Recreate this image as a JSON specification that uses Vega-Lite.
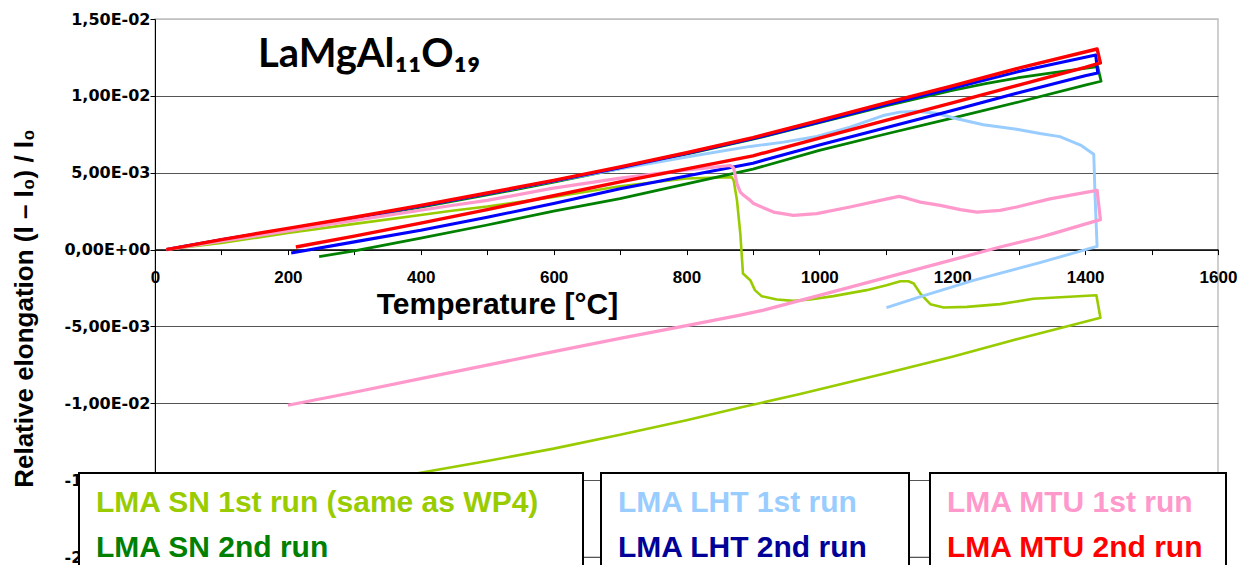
{
  "$schema": "https://vega.github.io/schema/vega-lite/v6.json",
  "width": 1063,
  "height": 538,
  "autosize": {"type": "none"},
  "padding": {"left": 155, "top": 19, "right": 27, "bottom": 8},
  "background": "white",
  "title": {"text": "LaMgAl₁₁O₁₉", "anchor": "start", "frame": "group", "orient": "top", "offset": 0, "dx": 103, "dy": 96, "baseline": "alphabetic", "font": "Lato", "fontSize": 40, "fontWeight": "bold", "color": "black"},
  "datasets": {
    "sn": [
      {"series": "LMA SN 1st run (same as WP4)", "i": 0, "T": 17, "e": 0},
      {"series": "LMA SN 1st run (same as WP4)", "i": 1, "T": 100, "e": 0.00043},
      {"series": "LMA SN 1st run (same as WP4)", "i": 2, "T": 200, "e": 0.00108},
      {"series": "LMA SN 1st run (same as WP4)", "i": 3, "T": 300, "e": 0.00167},
      {"series": "LMA SN 1st run (same as WP4)", "i": 4, "T": 400, "e": 0.00225},
      {"series": "LMA SN 1st run (same as WP4)", "i": 5, "T": 444, "e": 0.00251},
      {"series": "LMA SN 1st run (same as WP4)", "i": 6, "T": 500, "e": 0.0028},
      {"series": "LMA SN 1st run (same as WP4)", "i": 7, "T": 600, "e": 0.00342},
      {"series": "LMA SN 1st run (same as WP4)", "i": 8, "T": 700, "e": 0.00412},
      {"series": "LMA SN 1st run (same as WP4)", "i": 9, "T": 800, "e": 0.00462},
      {"series": "LMA SN 1st run (same as WP4)", "i": 10, "T": 868, "e": 0.00471},
      {"series": "LMA SN 1st run (same as WP4)", "i": 11, "T": 871, "e": 0.0045},
      {"series": "LMA SN 1st run (same as WP4)", "i": 12, "T": 876, "e": 0.0032},
      {"series": "LMA SN 1st run (same as WP4)", "i": 13, "T": 881, "e": 0.00104},
      {"series": "LMA SN 1st run (same as WP4)", "i": 14, "T": 885, "e": -0.00156},
      {"series": "LMA SN 1st run (same as WP4)", "i": 15, "T": 896, "e": -0.00199},
      {"series": "LMA SN 1st run (same as WP4)", "i": 16, "T": 903, "e": -0.00264},
      {"series": "LMA SN 1st run (same as WP4)", "i": 17, "T": 913, "e": -0.00303},
      {"series": "LMA SN 1st run (same as WP4)", "i": 18, "T": 936, "e": -0.00325},
      {"series": "LMA SN 1st run (same as WP4)", "i": 19, "T": 961, "e": -0.00334},
      {"series": "LMA SN 1st run (same as WP4)", "i": 20, "T": 986, "e": -0.00325},
      {"series": "LMA SN 1st run (same as WP4)", "i": 21, "T": 1021, "e": -0.00303},
      {"series": "LMA SN 1st run (same as WP4)", "i": 22, "T": 1071, "e": -0.00264},
      {"series": "LMA SN 1st run (same as WP4)", "i": 23, "T": 1101, "e": -0.00232},
      {"series": "LMA SN 1st run (same as WP4)", "i": 24, "T": 1122, "e": -0.00206},
      {"series": "LMA SN 1st run (same as WP4)", "i": 25, "T": 1134, "e": -0.00206},
      {"series": "LMA SN 1st run (same as WP4)", "i": 26, "T": 1142, "e": -0.00221},
      {"series": "LMA SN 1st run (same as WP4)", "i": 27, "T": 1152, "e": -0.00286},
      {"series": "LMA SN 1st run (same as WP4)", "i": 28, "T": 1167, "e": -0.00355},
      {"series": "LMA SN 1st run (same as WP4)", "i": 29, "T": 1187, "e": -0.00377},
      {"series": "LMA SN 1st run (same as WP4)", "i": 30, "T": 1222, "e": -0.00373},
      {"series": "LMA SN 1st run (same as WP4)", "i": 31, "T": 1272, "e": -0.00355},
      {"series": "LMA SN 1st run (same as WP4)", "i": 32, "T": 1322, "e": -0.0032},
      {"series": "LMA SN 1st run (same as WP4)", "i": 33, "T": 1417, "e": -0.00297},
      {"series": "LMA SN 1st run (same as WP4)", "i": 34, "T": 1423, "e": -0.00444},
      {"series": "LMA SN 1st run (same as WP4)", "i": 35, "T": 1350, "e": -0.00525},
      {"series": "LMA SN 1st run (same as WP4)", "i": 36, "T": 1300, "e": -0.0058},
      {"series": "LMA SN 1st run (same as WP4)", "i": 37, "T": 1200, "e": -0.00697},
      {"series": "LMA SN 1st run (same as WP4)", "i": 38, "T": 1100, "e": -0.00805},
      {"series": "LMA SN 1st run (same as WP4)", "i": 39, "T": 971, "e": -0.0094},
      {"series": "LMA SN 1st run (same as WP4)", "i": 40, "T": 881, "e": -0.01028},
      {"series": "LMA SN 1st run (same as WP4)", "i": 41, "T": 800, "e": -0.0111},
      {"series": "LMA SN 1st run (same as WP4)", "i": 42, "T": 700, "e": -0.01205},
      {"series": "LMA SN 1st run (same as WP4)", "i": 43, "T": 600, "e": -0.01295},
      {"series": "LMA SN 1st run (same as WP4)", "i": 44, "T": 500, "e": -0.01375},
      {"series": "LMA SN 1st run (same as WP4)", "i": 45, "T": 408, "e": -0.01446},
      {"series": "LMA SN 1st run (same as WP4)", "i": 46, "T": 300, "e": -0.0153},
      {"series": "LMA SN 1st run (same as WP4)", "i": 47, "T": 200, "e": -0.0161},
      {"series": "LMA SN 2nd run", "i": 0, "T": 17, "e": 0},
      {"series": "LMA SN 2nd run", "i": 1, "T": 100, "e": 0.00062},
      {"series": "LMA SN 2nd run", "i": 2, "T": 200, "e": 0.00133},
      {"series": "LMA SN 2nd run", "i": 3, "T": 300, "e": 0.00203},
      {"series": "LMA SN 2nd run", "i": 4, "T": 400, "e": 0.00276},
      {"series": "LMA SN 2nd run", "i": 5, "T": 500, "e": 0.00355},
      {"series": "LMA SN 2nd run", "i": 6, "T": 600, "e": 0.00438},
      {"series": "LMA SN 2nd run", "i": 7, "T": 700, "e": 0.00527},
      {"series": "LMA SN 2nd run", "i": 8, "T": 800, "e": 0.0062},
      {"series": "LMA SN 2nd run", "i": 9, "T": 900, "e": 0.00718},
      {"series": "LMA SN 2nd run", "i": 10, "T": 1000, "e": 0.00825},
      {"series": "LMA SN 2nd run", "i": 11, "T": 1100, "e": 0.00935},
      {"series": "LMA SN 2nd run", "i": 12, "T": 1200, "e": 0.01035},
      {"series": "LMA SN 2nd run", "i": 13, "T": 1250, "e": 0.0108},
      {"series": "LMA SN 2nd run", "i": 14, "T": 1300, "e": 0.01118},
      {"series": "LMA SN 2nd run", "i": 15, "T": 1350, "e": 0.0115},
      {"series": "LMA SN 2nd run", "i": 16, "T": 1419, "e": 0.0119},
      {"series": "LMA SN 2nd run", "i": 17, "T": 1424, "e": 0.01095},
      {"series": "LMA SN 2nd run", "i": 18, "T": 1400, "e": 0.0107},
      {"series": "LMA SN 2nd run", "i": 19, "T": 1300, "e": 0.0096},
      {"series": "LMA SN 2nd run", "i": 20, "T": 1200, "e": 0.00855},
      {"series": "LMA SN 2nd run", "i": 21, "T": 1100, "e": 0.00752},
      {"series": "LMA SN 2nd run", "i": 22, "T": 1000, "e": 0.00645},
      {"series": "LMA SN 2nd run", "i": 23, "T": 900, "e": 0.00523},
      {"series": "LMA SN 2nd run", "i": 24, "T": 800, "e": 0.00427},
      {"series": "LMA SN 2nd run", "i": 25, "T": 700, "e": 0.00331},
      {"series": "LMA SN 2nd run", "i": 26, "T": 600, "e": 0.0025},
      {"series": "LMA SN 2nd run", "i": 27, "T": 500, "e": 0.0016},
      {"series": "LMA SN 2nd run", "i": 28, "T": 400, "e": 0.00075},
      {"series": "LMA SN 2nd run", "i": 29, "T": 300, "e": -0.00008},
      {"series": "LMA SN 2nd run", "i": 30, "T": 247, "e": -0.00046}
    ],
    "lht": [
      {"series": "LMA LHT 1st run", "i": 0, "T": 17, "e": 0},
      {"series": "LMA LHT 1st run", "i": 1, "T": 100, "e": 0.00063},
      {"series": "LMA LHT 1st run", "i": 2, "T": 200, "e": 0.00135},
      {"series": "LMA LHT 1st run", "i": 3, "T": 300, "e": 0.00207},
      {"series": "LMA LHT 1st run", "i": 4, "T": 400, "e": 0.00284},
      {"series": "LMA LHT 1st run", "i": 5, "T": 500, "e": 0.00364},
      {"series": "LMA LHT 1st run", "i": 6, "T": 600, "e": 0.00445},
      {"series": "LMA LHT 1st run", "i": 7, "T": 700, "e": 0.00525},
      {"series": "LMA LHT 1st run", "i": 8, "T": 800, "e": 0.00602},
      {"series": "LMA LHT 1st run", "i": 9, "T": 896, "e": 0.00671},
      {"series": "LMA LHT 1st run", "i": 10, "T": 946, "e": 0.00699},
      {"series": "LMA LHT 1st run", "i": 11, "T": 996, "e": 0.00736},
      {"series": "LMA LHT 1st run", "i": 12, "T": 1046, "e": 0.00796},
      {"series": "LMA LHT 1st run", "i": 13, "T": 1096, "e": 0.00872},
      {"series": "LMA LHT 1st run", "i": 14, "T": 1121, "e": 0.00894},
      {"series": "LMA LHT 1st run", "i": 15, "T": 1146, "e": 0.009},
      {"series": "LMA LHT 1st run", "i": 16, "T": 1176, "e": 0.00887},
      {"series": "LMA LHT 1st run", "i": 17, "T": 1207, "e": 0.00851},
      {"series": "LMA LHT 1st run", "i": 18, "T": 1247, "e": 0.00812},
      {"series": "LMA LHT 1st run", "i": 19, "T": 1297, "e": 0.00783},
      {"series": "LMA LHT 1st run", "i": 20, "T": 1332, "e": 0.00755},
      {"series": "LMA LHT 1st run", "i": 21, "T": 1362, "e": 0.00735},
      {"series": "LMA LHT 1st run", "i": 22, "T": 1393, "e": 0.0068},
      {"series": "LMA LHT 1st run", "i": 23, "T": 1413, "e": 0.0062},
      {"series": "LMA LHT 1st run", "i": 24, "T": 1415, "e": 0.00342},
      {"series": "LMA LHT 1st run", "i": 25, "T": 1418, "e": 0.00021},
      {"series": "LMA LHT 1st run", "i": 26, "T": 1332, "e": -0.00085},
      {"series": "LMA LHT 1st run", "i": 27, "T": 1232, "e": -0.002},
      {"series": "LMA LHT 1st run", "i": 28, "T": 1150, "e": -0.0031},
      {"series": "LMA LHT 1st run", "i": 29, "T": 1101, "e": -0.00377},
      {"series": "LMA LHT 2nd run", "i": 0, "T": 17, "e": 0},
      {"series": "LMA LHT 2nd run", "i": 1, "T": 100, "e": 0.00064},
      {"series": "LMA LHT 2nd run", "i": 2, "T": 200, "e": 0.00134},
      {"series": "LMA LHT 2nd run", "i": 3, "T": 300, "e": 0.00206},
      {"series": "LMA LHT 2nd run", "i": 4, "T": 400, "e": 0.00283},
      {"series": "LMA LHT 2nd run", "i": 5, "T": 500, "e": 0.00363},
      {"series": "LMA LHT 2nd run", "i": 6, "T": 600, "e": 0.00446},
      {"series": "LMA LHT 2nd run", "i": 7, "T": 700, "e": 0.00533},
      {"series": "LMA LHT 2nd run", "i": 8, "T": 800, "e": 0.00625},
      {"series": "LMA LHT 2nd run", "i": 9, "T": 900, "e": 0.00722},
      {"series": "LMA LHT 2nd run", "i": 10, "T": 1000, "e": 0.0083},
      {"series": "LMA LHT 2nd run", "i": 11, "T": 1100, "e": 0.00942},
      {"series": "LMA LHT 2nd run", "i": 12, "T": 1200, "e": 0.0105},
      {"series": "LMA LHT 2nd run", "i": 13, "T": 1300, "e": 0.01158},
      {"series": "LMA LHT 2nd run", "i": 14, "T": 1416, "e": 0.01266},
      {"series": "LMA LHT 2nd run", "i": 15, "T": 1419, "e": 0.01149},
      {"series": "LMA LHT 2nd run", "i": 16, "T": 1400, "e": 0.0113},
      {"series": "LMA LHT 2nd run", "i": 17, "T": 1300, "e": 0.0102},
      {"series": "LMA LHT 2nd run", "i": 18, "T": 1200, "e": 0.00905},
      {"series": "LMA LHT 2nd run", "i": 19, "T": 1100, "e": 0.00792},
      {"series": "LMA LHT 2nd run", "i": 20, "T": 1000, "e": 0.0068},
      {"series": "LMA LHT 2nd run", "i": 21, "T": 900, "e": 0.00562},
      {"series": "LMA LHT 2nd run", "i": 22, "T": 800, "e": 0.00478},
      {"series": "LMA LHT 2nd run", "i": 23, "T": 700, "e": 0.00396},
      {"series": "LMA LHT 2nd run", "i": 24, "T": 600, "e": 0.003},
      {"series": "LMA LHT 2nd run", "i": 25, "T": 500, "e": 0.0021},
      {"series": "LMA LHT 2nd run", "i": 26, "T": 400, "e": 0.00125},
      {"series": "LMA LHT 2nd run", "i": 27, "T": 300, "e": 0.0005},
      {"series": "LMA LHT 2nd run", "i": 28, "T": 205, "e": -0.00022}
    ],
    "mtu": [
      {"series": "LMA MTU 1st run", "i": 0, "T": 17, "e": 0},
      {"series": "LMA MTU 1st run", "i": 1, "T": 100, "e": 0.00055},
      {"series": "LMA MTU 1st run", "i": 2, "T": 200, "e": 0.00122},
      {"series": "LMA MTU 1st run", "i": 3, "T": 300, "e": 0.0019},
      {"series": "LMA MTU 1st run", "i": 4, "T": 444, "e": 0.00285},
      {"series": "LMA MTU 1st run", "i": 5, "T": 500, "e": 0.0032},
      {"series": "LMA MTU 1st run", "i": 6, "T": 595, "e": 0.00396},
      {"series": "LMA MTU 1st run", "i": 7, "T": 695, "e": 0.00461},
      {"series": "LMA MTU 1st run", "i": 8, "T": 795, "e": 0.00515},
      {"series": "LMA MTU 1st run", "i": 9, "T": 866, "e": 0.00547},
      {"series": "LMA MTU 1st run", "i": 10, "T": 871, "e": 0.0053},
      {"series": "LMA MTU 1st run", "i": 11, "T": 876, "e": 0.00428},
      {"series": "LMA MTU 1st run", "i": 12, "T": 881, "e": 0.00374},
      {"series": "LMA MTU 1st run", "i": 13, "T": 886, "e": 0.00353},
      {"series": "LMA MTU 1st run", "i": 14, "T": 896, "e": 0.0032},
      {"series": "LMA MTU 1st run", "i": 15, "T": 901, "e": 0.00299},
      {"series": "LMA MTU 1st run", "i": 16, "T": 931, "e": 0.00244},
      {"series": "LMA MTU 1st run", "i": 17, "T": 961, "e": 0.00223},
      {"series": "LMA MTU 1st run", "i": 18, "T": 996, "e": 0.00234},
      {"series": "LMA MTU 1st run", "i": 19, "T": 1046, "e": 0.00277},
      {"series": "LMA MTU 1st run", "i": 20, "T": 1097, "e": 0.00325},
      {"series": "LMA MTU 1st run", "i": 21, "T": 1120, "e": 0.00346},
      {"series": "LMA MTU 1st run", "i": 22, "T": 1134, "e": 0.00331},
      {"series": "LMA MTU 1st run", "i": 23, "T": 1152, "e": 0.00309},
      {"series": "LMA MTU 1st run", "i": 24, "T": 1182, "e": 0.00288},
      {"series": "LMA MTU 1st run", "i": 25, "T": 1212, "e": 0.0026},
      {"series": "LMA MTU 1st run", "i": 26, "T": 1237, "e": 0.00244},
      {"series": "LMA MTU 1st run", "i": 27, "T": 1272, "e": 0.00255},
      {"series": "LMA MTU 1st run", "i": 28, "T": 1297, "e": 0.00277},
      {"series": "LMA MTU 1st run", "i": 29, "T": 1347, "e": 0.0033},
      {"series": "LMA MTU 1st run", "i": 30, "T": 1418, "e": 0.00385},
      {"series": "LMA MTU 1st run", "i": 31, "T": 1423, "e": 0.00195},
      {"series": "LMA MTU 1st run", "i": 32, "T": 1350, "e": 0.00102},
      {"series": "LMA MTU 1st run", "i": 33, "T": 1332, "e": 0.0008},
      {"series": "LMA MTU 1st run", "i": 34, "T": 1272, "e": 0.00017},
      {"series": "LMA MTU 1st run", "i": 35, "T": 1200, "e": -0.00067},
      {"series": "LMA MTU 1st run", "i": 36, "T": 1086, "e": -0.00199},
      {"series": "LMA MTU 1st run", "i": 37, "T": 1000, "e": -0.00298},
      {"series": "LMA MTU 1st run", "i": 38, "T": 916, "e": -0.00394},
      {"series": "LMA MTU 1st run", "i": 39, "T": 881, "e": -0.00426},
      {"series": "LMA MTU 1st run", "i": 40, "T": 800, "e": -0.00495},
      {"series": "LMA MTU 1st run", "i": 41, "T": 700, "e": -0.00578},
      {"series": "LMA MTU 1st run", "i": 42, "T": 600, "e": -0.00664},
      {"series": "LMA MTU 1st run", "i": 43, "T": 500, "e": -0.00752},
      {"series": "LMA MTU 1st run", "i": 44, "T": 400, "e": -0.0084},
      {"series": "LMA MTU 1st run", "i": 45, "T": 300, "e": -0.00928},
      {"series": "LMA MTU 1st run", "i": 46, "T": 200, "e": -0.01013},
      {"series": "LMA MTU 2nd run", "i": 0, "T": 17, "e": 0},
      {"series": "LMA MTU 2nd run", "i": 1, "T": 100, "e": 0.00065},
      {"series": "LMA MTU 2nd run", "i": 2, "T": 200, "e": 0.00138},
      {"series": "LMA MTU 2nd run", "i": 3, "T": 300, "e": 0.0021},
      {"series": "LMA MTU 2nd run", "i": 4, "T": 400, "e": 0.00288},
      {"series": "LMA MTU 2nd run", "i": 5, "T": 500, "e": 0.00368},
      {"series": "LMA MTU 2nd run", "i": 6, "T": 600, "e": 0.0045},
      {"series": "LMA MTU 2nd run", "i": 7, "T": 700, "e": 0.00538},
      {"series": "LMA MTU 2nd run", "i": 8, "T": 800, "e": 0.0063},
      {"series": "LMA MTU 2nd run", "i": 9, "T": 900, "e": 0.00728},
      {"series": "LMA MTU 2nd run", "i": 10, "T": 1000, "e": 0.0084},
      {"series": "LMA MTU 2nd run", "i": 11, "T": 1100, "e": 0.00955},
      {"series": "LMA MTU 2nd run", "i": 12, "T": 1200, "e": 0.01065},
      {"series": "LMA MTU 2nd run", "i": 13, "T": 1300, "e": 0.0118},
      {"series": "LMA MTU 2nd run", "i": 14, "T": 1418, "e": 0.01305},
      {"series": "LMA MTU 2nd run", "i": 15, "T": 1423, "e": 0.01215},
      {"series": "LMA MTU 2nd run", "i": 16, "T": 1400, "e": 0.01185},
      {"series": "LMA MTU 2nd run", "i": 17, "T": 1300, "e": 0.0107},
      {"series": "LMA MTU 2nd run", "i": 18, "T": 1200, "e": 0.00955},
      {"series": "LMA MTU 2nd run", "i": 19, "T": 1100, "e": 0.0084},
      {"series": "LMA MTU 2nd run", "i": 20, "T": 1000, "e": 0.00725},
      {"series": "LMA MTU 2nd run", "i": 21, "T": 900, "e": 0.0061},
      {"series": "LMA MTU 2nd run", "i": 22, "T": 800, "e": 0.00525},
      {"series": "LMA MTU 2nd run", "i": 23, "T": 700, "e": 0.0044},
      {"series": "LMA MTU 2nd run", "i": 24, "T": 600, "e": 0.0035},
      {"series": "LMA MTU 2nd run", "i": 25, "T": 500, "e": 0.0026},
      {"series": "LMA MTU 2nd run", "i": 26, "T": 400, "e": 0.00172},
      {"series": "LMA MTU 2nd run", "i": 27, "T": 300, "e": 0.00088},
      {"series": "LMA MTU 2nd run", "i": 28, "T": 212, "e": 0.00017}
    ]
  },
  "encoding": {
    "x": {
      "field": "T", "type": "quantitative",
      "scale": {"domain": [0, 1600], "nice": false, "zero": false},
      "axis": {
        "title": "Temperature [°C]",
        "values": [0, 100, 200, 300, 400, 500, 600, 700, 800, 900, 1000, 1100, 1200, 1300, 1400, 1500, 1600],
        "format": "d",
        "labelExpr": "datum.value % 200 === 0 ? datum.label : ''",
        "grid": false,
        "offset": {"expr": "scale('y', 0) - height"},
        "domainColor": "black", "domainWidth": 1.5,
        "tickColor": "black", "tickSize": 5, "tickWidth": 1,
        "labelFont": "Liberation Sans", "labelFontSize": 17, "labelFontWeight": "bold", "labelColor": "black",
        "labelPadding": 15, "labelOverlap": false, "labelBound": false, "labelFlush": false,
        "titleFont": "Liberation Sans", "titleFontSize": 30, "titleFontWeight": "bold", "titleColor": "black",
        "titleX": 342, "titleY": 64, "titleBaseline": "alphabetic", "titleAlign": "center", "titleAnchor": null
      }
    },
    "y": {
      "field": "e", "type": "quantitative",
      "scale": {"domain": [-0.02, 0.015], "nice": false, "zero": false},
      "axis": {
        "title": "Relative elongation (l – l₀) / l₀",
        "values": [-0.02, -0.015, -0.01, -0.005, 0, 0.005, 0.01, 0.015],
        "labelExpr": "replace(replace(replace(replace(format(datum.value, '.2e'), '−', '-'), '.', ','), 'e-', 'E-0'), 'e+', 'E+0')",
        "grid": true,
        "gridColor": {"condition": {"test": "datum.value > 0.0149", "value": "#c0c0c0"}, "value": "#555555"},
        "gridWidth": 1,
        "domainColor": "black", "domainWidth": 1,
        "tickColor": "black", "tickSize": 5, "tickWidth": 1,
        "labelFont": "DejaVu Sans", "labelFontSize": 16, "labelFontWeight": "bold", "labelColor": "black",
        "labelPadding": 0, "labelOverlap": false, "labelBound": false, "labelFlush": false,
        "titleFont": "Liberation Sans", "titleFontSize": 26, "titleFontWeight": "bold", "titleColor": "black",
        "titleAngle": -90, "titleX": -123, "titleY": 289, "titleBaseline": "alphabetic", "titleAlign": "center", "titleAnchor": null
      }
    },
    "order": {"field": "i", "type": "quantitative"},
    "strokeWidth": {
      "field": "series", "type": "nominal",
      "scale": {
        "domain": ["LMA SN 1st run (same as WP4)", "LMA SN 2nd run", "LMA LHT 1st run", "LMA LHT 2nd run", "LMA MTU 1st run", "LMA MTU 2nd run"],
        "range": [2.6, 3.4, 2.6, 3.4, 2.6, 3.4]
      },
      "legend": null
    }
  },
  "layer": [
    {
      "data": {"name": "sn"},
      "mark": {"type": "line", "clip": true, "strokeJoin": "round"},
      "encoding": {
        "color": {
          "field": "series", "type": "nominal",
          "scale": {"domain": ["LMA SN 1st run (same as WP4)", "LMA SN 2nd run"], "range": ["#99cc00", "#008000"]},
          "legend": {
            "orient": "none", "legendX": -76, "legendY": 454, "title": null, "direction": "vertical",
            "symbolOffset": 459, "labelOffset": -487,
            "labelColor": {"expr": "datum.value === 'LMA SN 2nd run' ? '#008000' : '#99cc00'"}
          }
        }
      }
    },
    {
      "data": {"name": "lht"},
      "mark": {"type": "line", "clip": true, "strokeJoin": "round"},
      "encoding": {
        "color": {
          "field": "series", "type": "nominal",
          "scale": {"domain": ["LMA LHT 1st run", "LMA LHT 2nd run"], "range": ["#99ccff", "#0000ff"]},
          "legend": {
            "orient": "none", "legendX": 446, "legendY": 454, "title": null, "direction": "vertical",
            "symbolOffset": 263, "labelOffset": -291,
            "labelColor": {"expr": "datum.value === 'LMA LHT 2nd run' ? '#000099' : '#99ccff'"}
          }
        }
      }
    },
    {
      "data": {"name": "mtu"},
      "mark": {"type": "line", "clip": true, "strokeJoin": "round"},
      "encoding": {
        "color": {
          "field": "series", "type": "nominal",
          "scale": {"domain": ["LMA MTU 1st run", "LMA MTU 2nd run"], "range": ["#ff99cc", "#ff0000"]},
          "legend": {
            "orient": "none", "legendX": 775, "legendY": 454, "title": null, "direction": "vertical",
            "symbolOffset": 251, "labelOffset": -279,
            "labelColor": {"expr": "datum.value === 'LMA MTU 2nd run' ? '#ff0000' : '#ff99cc'"}
          }
        }
      }
    }
  ],
  "resolve": {"scale": {"color": "independent"}},
  "config": {
    "view": {"stroke": "#c0c0c0", "strokeWidth": 1.5, "fill": "white"},
    "legend": {
      "labelFont": "Liberation Sans", "labelFontSize": 30, "labelFontWeight": "bold", "labelLimit": 0,
      "symbolSize": 0, "symbolStrokeWidth": 0, "symbolOpacity": 0, "labelOffset": -28,
      "rowPadding": 15, "padding": 15, "strokeColor": "black", "strokeWidth": 2, "fillColor": "white", "cornerRadius": 0
    }
  }
}
